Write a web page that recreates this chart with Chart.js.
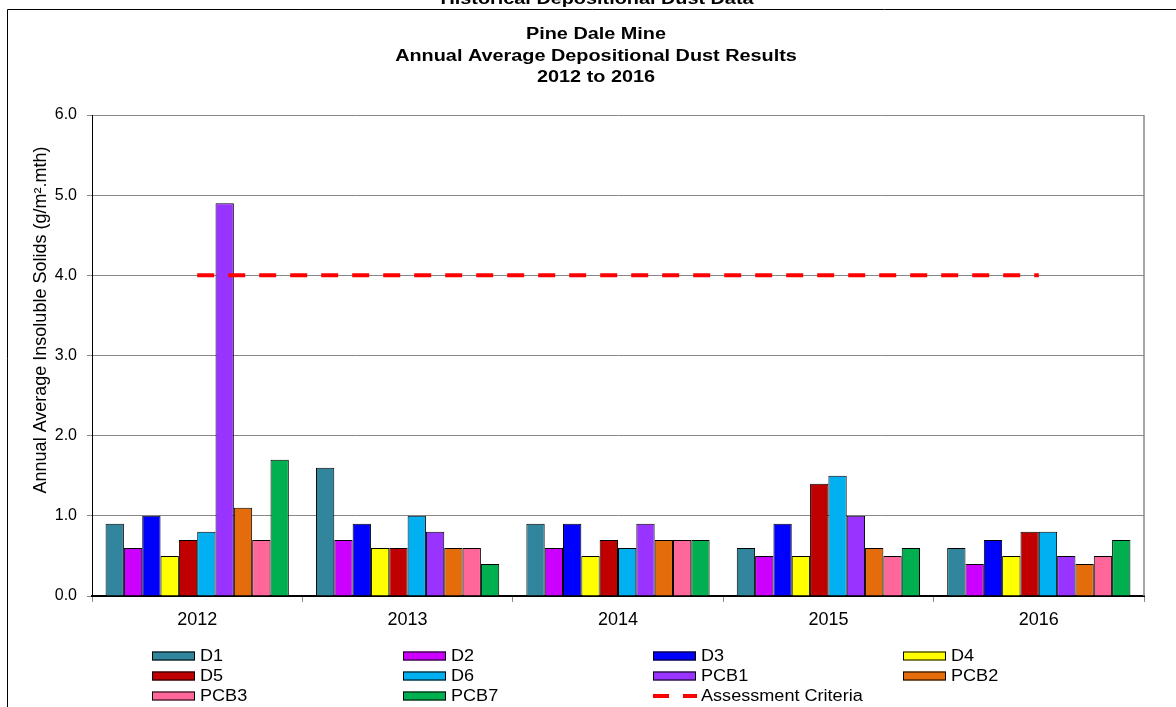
<!DOCTYPE html>
<html>
<head>
<meta charset="utf-8">
<script src="https://cdn.jsdelivr.net/npm/chart.js@4.4.1/dist/chart.umd.min.js"></script>
<style>
    html, body { margin: 0; padding: 0; background: #fff; overflow: hidden; }
    #wrap { position: relative; width: 1176px; height: 707px; }
</style>
</head>
<body>
<div id="wrap"><canvas id="dustChart" width="1176" height="707"></canvas></div>
<script>
// Data
const years = ['2012', '2013', '2014', '2015', '2016'];
const seriesNames = ['D1', 'D2', 'D3', 'D4', 'D5', 'D6', 'PCB1', 'PCB2', 'PCB3', 'PCB7'];
const d1   = [0.9, 1.6, 0.9, 0.6, 0.6];
const d2   = [0.6, 0.7, 0.6, 0.5, 0.4];
const d3   = [1.0, 0.9, 0.9, 0.9, 0.7];
const d4   = [0.5, 0.6, 0.5, 0.5, 0.5];
const d5   = [0.7, 0.6, 0.7, 1.4, 0.8];
const d6   = [0.8, 1.0, 0.6, 1.5, 0.8];
const pcb1 = [4.9, 0.8, 0.9, 1.0, 0.5];
const pcb2 = [1.1, 0.6, 0.7, 0.6, 0.4];
const pcb3 = [0.7, 0.6, 0.7, 0.5, 0.5];
const pcb7 = [1.7, 0.4, 0.7, 0.6, 0.7];
const criteria = [4.0, 4.0, 4.0, 4.0, 4.0];
const criteriaName = 'Assessment Criteria';

const seriesValues = [d1, d2, d3, d4, d5, d6, pcb1, pcb2, pcb3, pcb7];
const seriesColors = ['#31859C', '#CC00FF', '#0000FF', '#FFFF00', '#C00000',
                      '#00B0F0', '#9933FF', '#E46C0A', '#FF6699', '#00B050'];

const titleLines = ['Pine Dale Mine', 'Annual Average Depositional Dust Results', '2012 to 2016'];
const topTitle = 'Historical Depositional Dust Data';
const yTitle = 'Annual Average Insoluble Solids (g/m\u00B2.mth)';
const FONT = "'Liberation Sans', Arial, sans-serif";

// draw text stretched horizontally (the reference is a stretched Excel image)
function wideText(ctx, text, x, y, sx) {
    ctx.save();
    ctx.translate(x, y);
    ctx.scale(sx, 1);
    ctx.fillText(text, 0, 0);
    ctx.restore();
}

// Frame, titles and the 4-column legend
const decorPlugin = {
    id: 'decor',
    beforeDraw(chart) {
        const ctx = chart.ctx;
        ctx.save();
        ctx.strokeStyle = '#000';
        ctx.lineWidth = 1;
        ctx.beginPath();
        ctx.moveTo(7.5, 720);
        ctx.lineTo(7.5, 9.5);
        ctx.lineTo(1190, 9.5);
        ctx.stroke();
        ctx.restore();
    },
    afterDatasetsDraw(chart) {
        const ctx = chart.ctx;
        const a = chart.chartArea;
        ctx.save();
        ctx.strokeStyle = '#888';
        ctx.lineWidth = 1.5;
        ctx.beginPath();
        ctx.moveTo(a.right, a.top);
        ctx.lineTo(a.right, a.bottom);
        ctx.stroke();
        ctx.restore();
    },
    afterDraw(chart) {
        const ctx = chart.ctx;
        ctx.save();
        ctx.fillStyle = '#000';
        ctx.textAlign = 'center';
        ctx.textBaseline = 'alphabetic';
        ctx.font = 'bold 16px ' + FONT;
        wideText(ctx, topTitle, 597, 4, 1.24);
        ctx.textBaseline = 'middle';
        const titleY = [35, 57, 78];
        titleLines.forEach((t, i) => wideText(ctx, t, 596, titleY[i], 1.24));

        // y axis title (Excel puts it a bit above the plot centre)
        ctx.save();
        ctx.translate(41, 320);
        ctx.rotate(-Math.PI / 2);
        ctx.font = '18px ' + FONT;
        ctx.fillText(yTitle, 0, 0);
        ctx.restore();

        // legend
        const colX = [152, 403, 653, 903];
        const rowY = [656, 676, 696];
        ctx.font = '16px ' + FONT;
        ctx.textAlign = 'left';
        chart.data.datasets.forEach((ds, i) => {
            const x = colX[i % 4];
            const y = rowY[Math.floor(i / 4)];
            if (ds.type === 'line') {
                ctx.strokeStyle = ds.borderColor;
                ctx.lineWidth = 4;
                ctx.beginPath();
                ctx.moveTo(x, y); ctx.lineTo(x + 16, y);
                ctx.moveTo(x + 30, y); ctx.lineTo(x + 44, y);
                ctx.stroke();
            } else {
                ctx.fillStyle = ds.backgroundColor;
                ctx.fillRect(x, y - 4.5, 43, 9);
                ctx.strokeStyle = '#000';
                ctx.lineWidth = 1;
                ctx.strokeRect(x + 0.5, y - 4, 42, 8);
            }
            ctx.fillStyle = '#000';
            wideText(ctx, ds.label, x + 48, y + 1, 1.13);
        });
        ctx.restore();
    }
};

const datasets = seriesNames.map((name, i) => ({
    type: 'bar',
    label: name,
    data: seriesValues[i],
    backgroundColor: seriesColors[i],
    borderColor: '#000',
    borderWidth: 1,
    categoryPercentage: 0.871,
    barPercentage: 1.0,
    order: 1
}));
datasets.push({
    type: 'line',
    label: criteriaName,
    data: criteria,
    borderColor: '#FF0000',
    borderWidth: 4,
    borderDash: [17, 14],
    pointRadius: 0,
    fill: false,
    order: 0
});

new Chart(document.getElementById('dustChart'), {
    type: 'bar',
    data: { labels: years, datasets: datasets },
    plugins: [decorPlugin],
    options: {
        responsive: false,
        animation: false,
        layout: { padding: { left: 0, right: 32, top: 115, bottom: 0 } },
        plugins: {
            legend: { display: false },
            title: { display: false },
            tooltip: { enabled: false }
        },
        scales: {
            x: {
                offset: true,
                grid: {
                    offset: true,
                    drawOnChartArea: false,
                    drawTicks: true,
                    tickLength: 6,
                    tickColor: '#888'
                },
                border: { color: '#000', width: 2 },
                ticks: { color: '#000', font: { family: FONT, size: 18 }, padding: 7 },
                afterFit(scale) { scale.height = 111; }
            },
            y: {
                min: 0,
                max: 6,
                grid: { color: '#888', lineWidth: 1, tickLength: 5, tickColor: '#888' },
                border: { color: '#000', width: 1 },
                ticks: {
                    stepSize: 1,
                    color: '#000',
                    padding: 10,
                    font: { family: FONT, size: 16 },
                    callback: v => v.toFixed(1)
                },
                afterFit(scale) { scale.width = 92; }
            }
        }
    }
});
</script>
</body>
</html>
